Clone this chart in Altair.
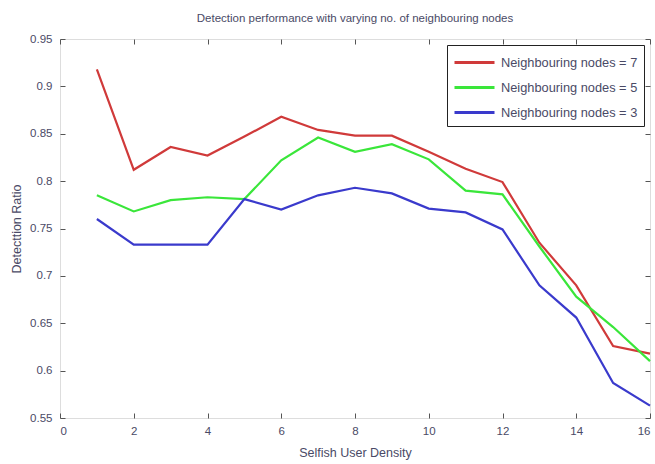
import altair as alt
import pandas as pd

density = list(range(1, 17))
nodes7 = [0.918, 0.812, 0.836, 0.827, 0.847, 0.868, 0.854, 0.848, 0.848, 0.831, 0.813, 0.799, 0.735, 0.690, 0.626, 0.618]
nodes5 = [0.785, 0.768, 0.780, 0.783, 0.781, 0.822, 0.846, 0.831, 0.839, 0.823, 0.790, 0.786, 0.731, 0.678, 0.646, 0.610]
nodes3 = [0.760, 0.733, 0.733, 0.733, 0.781, 0.770, 0.785, 0.793, 0.787, 0.771, 0.767, 0.749, 0.690, 0.656, 0.587, 0.563]
series_names = ["Neighbouring nodes = 7", "Neighbouring nodes = 5", "Neighbouring nodes = 3"]
series_colors = ["#d03a3a", "#3ae63a", "#3a3acc"]
x_ticks = [0, 2, 4, 6, 8, 10, 12, 14, 16]
y_ticks = [0.55, 0.6, 0.65, 0.7, 0.75, 0.8, 0.85, 0.9, 0.95]

rows = []
for name, vals in zip(series_names, [nodes7, nodes5, nodes3]):
    for x, v in zip(density, vals):
        rows.append({"density": x, "ratio": v, "series": name})
df = pd.DataFrame(rows)

FONT = "Liberation Sans"
TXT = "#4a4a66"

xscale = alt.Scale(domain=[0, 16], nice=False, zero=False)
yscale = alt.Scale(domain=[0.55, 0.95], nice=False, zero=False)

base = alt.Chart(df)

lines = base.mark_line(strokeWidth=2.2).encode(
    x=alt.X("density:Q", scale=xscale,
            axis=alt.Axis(title="Selfish User Density", values=x_ticks, format="d",
                          grid=False, domain=False, offset=-5, tickSize=5,
                          tickColor="#555", labelPadding=7, labelFontSize=11.5,
                          labelFont=FONT, labelColor=TXT, titleFont=FONT,
                          titleFontSize=12.5, titleFontWeight="normal", titleColor=TXT,
                          titlePadding=10)),
    y=alt.Y("ratio:Q", scale=yscale,
            axis=alt.Axis(title="Detecttion Ratio", values=y_ticks, format=".2~f",
                          grid=False, domain=False, offset=-5, tickSize=5,
                          tickColor="#555", labelPadding=8, labelFontSize=11.5,
                          labelFont=FONT, labelColor=TXT, titleFont=FONT,
                          titleFontSize=12.5, titleFontWeight="normal", titleColor=TXT,
                          titlePadding=6)),
    color=alt.Color("series:N",
                    scale=alt.Scale(domain=series_names, range=series_colors),
                    sort=series_names,
                    legend=alt.Legend(title=None, orient="top-right", offset=6,
                                      symbolType="M-1,0L3,0", symbolSize=400,
                                      symbolStrokeWidth=3, labelOffset=25,
                                      labelFont=FONT, labelFontSize=12.8, labelColor=TXT,
                                      strokeColor="#222", fillColor="white",
                                      padding=6, rowPadding=6, labelLimit=300)),
)

mirror = base.mark_line(opacity=0).encode(
    x=alt.X("density:Q", scale=xscale,
            axis=alt.Axis(orient="top", title=None, values=x_ticks, labels=False,
                          grid=False, domain=False, offset=-5, tickSize=5,
                          minExtent=0, maxExtent=0, tickColor="#555")),
    y=alt.Y("ratio:Q", scale=yscale,
            axis=alt.Axis(orient="right", title=None, values=y_ticks, labels=False,
                          grid=False, domain=False, offset=-5, tickSize=5,
                          minExtent=0, maxExtent=0, tickColor="#555")),
    detail="series:N",
)

chart = alt.layer(mirror, lines).resolve_axis(x="independent", y="independent").properties(
    width=655, height=464,
    autosize=alt.AutoSizeParams(type="fit", contains="padding"),
    title=alt.TitleParams("Detection performance with varying no. of neighbouring nodes",
                          font=FONT, fontSize=11.5, fontWeight="normal", color=TXT,
                          anchor="middle", offset=9),
    padding={"left": 10, "top": 12, "right": 0, "bottom": 5},
).configure_view(stroke="#666", strokeWidth=1.5).configure(background="white")

chart.save("out.html", embed_options={"renderer": "svg", "actions": False})
